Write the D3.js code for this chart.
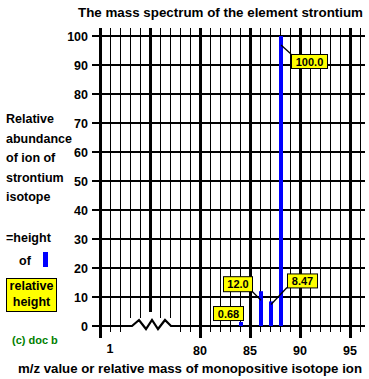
<!DOCTYPE html>
<html><head><meta charset="utf-8">
<script src="https://cdn.jsdelivr.net/npm/d3@7"></script>
<style>
html,body{margin:0;padding:0;background:#fff;}
svg{display:block;}
text{font-family:"Liberation Sans",Arial,sans-serif;font-weight:bold;}
</style></head>
<body>
<script>
// ---- data ----
const masses = [84, 86, 87, 88];
const abundances = [0.68, 12.0, 8.47, 100.0];
const valueLabels = ["0.68", "12.0", "8.47", "100.0"];
const xTickValues = [1, 80, 85, 90, 95];
const xTickLabels = ["1", "80", "85", "90", "95"];
const yTickValues = [0, 10, 20, 30, 40, 50, 60, 70, 80, 90, 100];
const titleText = "The mass spectrum of the element strontium";
const xTitleText = "m/z value or relative mass of monopositive isotope ion";
const yTitleLines = ["Relative", "abundance", "of ion of", "strontium", "isotope"];

const W = 369, H = 379;
const svg = d3.select("body").append("svg").attr("width", W).attr("height", H);

// broken x axis: 0..1 then jump to 80..96
const x = d3.scaleLinear().domain([0, 1, 80, 96.5]).range([100, 110, 200, 365]);
const y = d3.scaleLinear().domain([0, 100]).range([326, 36]);

const gridTop = 28;
const breakX0 = x(1) + 22, breakX1 = x(1) + 62;

// vertical grid lines every 10px from axis to right edge
const gridIdx = d3.range(0, 27);
const gx = i => x(0) + i * 10;
svg.append("g").selectAll("line").data(gridIdx).join("line")
  .attr("x1", i => gx(i)).attr("x2", i => gx(i))
  .attr("y1", gridTop)
  .attr("y2", i => {
    const xx = gx(i);
    const thick = i % 5 === 0;
    if (xx >= breakX0 - 3 && xx < breakX1) return thick ? 312 : 318;
    return thick ? 338 : 332;
  })
  .attr("stroke", "#000")
  .attr("stroke-width", i => i % 5 === 0 ? 3 : 1)
  .attr("shape-rendering", "crispEdges");

// horizontal grid lines
svg.append("g").selectAll("line").data(yTickValues.filter(v => v !== 0)).join("line")
  .attr("x1", 92).attr("x2", 365)
  .attr("y1", d => y(d)).attr("y2", d => y(d))
  .attr("stroke", "#000").attr("stroke-width", 1.5)
  .attr("shape-rendering", "crispEdges");

// zero line with zigzag break
const y0 = y(0);
const zig = [[92, y0], [breakX0, y0], [breakX0 + 7, y0 - 6], [breakX0 + 14, y0 + 3], [breakX0 + 20, y0 - 6],
  [breakX0 + 26, y0 + 3], [breakX0 + 33, y0 - 6], [breakX0 + 39, y0], [365, y0]];
svg.append("path").attr("d", d3.line()(zig))
  .attr("fill", "none").attr("stroke", "#000").attr("stroke-width", 2.2)
  .attr("stroke-linejoin", "miter");

// y tick labels
svg.append("g").selectAll("text").data(yTickValues).join("text")
  .attr("x", 88).attr("y", d => y(d) + 4.5)
  .attr("text-anchor", "end").attr("font-size", 12.5)
  .text(d => d);

// x tick labels
svg.append("g").selectAll("text").data(xTickValues).join("text")
  .attr("x", d => x(d)).attr("y", (d, i) => i === 0 ? 353 : 355)
  .attr("text-anchor", "middle").attr("font-size", 12.5)
  .text((d, i) => xTickLabels[i]);

// bars
svg.append("g").selectAll("rect").data(masses).join("rect")
  .attr("x", d => x(d) - 1).attr("width", 4)
  .attr("y", (d, i) => y(abundances[i]) - (i === 0 ? 2 : 0))
  .attr("height", (d, i) => y0 - y(abundances[i]) + (i === 0 ? 2 : 0))
  .attr("fill", "#0000ff");

// label boxes (layout offsets relative to bar tops)
const boxLayout = [
  {dx: -28, dy: -18, w: 30, h: 14},
  {dx: -38, dy: -15, w: 29, h: 15},
  {dx: 16, dy: -28, w: 30, h: 14},
  {dx: 10, dy: 18, w: 36, h: 14}
];
const lg = svg.append("g");
masses.forEach((m, i) => {
  const bx = x(m) + 1, by = y(abundances[i]);
  const L = boxLayout[i];
  const rx = bx + L.dx, ry = by + L.dy;
  if (i === 1) lg.append("line").attr("x1", rx + L.w).attr("y1", ry + L.h).attr("x2", bx).attr("y2", by + 9)
      .attr("stroke", "#000").attr("stroke-width", 1.3);
  if (i === 2) lg.append("line").attr("x1", rx).attr("y1", ry + L.h).attr("x2", bx).attr("y2", by + 3)
      .attr("stroke", "#000").attr("stroke-width", 1.3);
  if (i === 3) lg.append("line").attr("x1", bx).attr("y1", by + 9).attr("x2", rx).attr("y2", ry)
      .attr("stroke", "#000").attr("stroke-width", 1.3);
  lg.append("rect").attr("x", rx + 0.5).attr("y", ry + 0.5).attr("width", L.w).attr("height", L.h)
    .attr("fill", "#ffff00").attr("stroke", "#000").attr("stroke-width", 1);
  lg.append("text").attr("x", rx + 0.5 + L.w / 2).attr("y", ry + L.h / 2 + 4.5)
    .attr("text-anchor", "middle").attr("font-size", 11)
    .attr("font-family", "'DejaVu Sans Mono', monospace")
    .text(valueLabels[i]);
});

// title
svg.append("text").attr("x", 78).attr("y", 17).attr("font-size", 13)
  .attr("textLength", 285).attr("lengthAdjust", "spacingAndGlyphs").text(titleText);

// x axis title
svg.append("text").attr("x", 18).attr("y", 373).attr("font-size", 13)
  .attr("textLength", 344).attr("lengthAdjust", "spacingAndGlyphs").text(xTitleText);

// y axis title lines
svg.append("g").selectAll("text").data(yTitleLines).join("text")
  .attr("x", 6).attr("y", (d, i) => 123 + i * 19.5).attr("font-size", 12.5)
  .text(d => d);

svg.append("text").attr("x", 6).attr("y", 242).attr("font-size", 12.5).text("=height");
svg.append("text").attr("x", 19).attr("y", 265).attr("font-size", 12.5).text("of");
svg.append("rect").attr("x", 43).attr("y", 252).attr("width", 5).attr("height", 15).attr("fill", "#0000ff");

svg.append("rect").attr("x", 6.5).attr("y", 278.5).attr("width", 50).attr("height", 33)
  .attr("fill", "#ffff00").attr("stroke", "#000").attr("stroke-width", 1);
svg.append("text").attr("x", 31.5).attr("y", 290).attr("text-anchor", "middle").attr("font-size", 12.5).text("relative");
svg.append("text").attr("x", 31.5).attr("y", 306).attr("text-anchor", "middle").attr("font-size", 12.5).text("height");

svg.append("text").attr("x", 12).attr("y", 344).attr("font-size", 11).attr("fill", "#008000").text("(c) doc b");
</script>
</body></html>
